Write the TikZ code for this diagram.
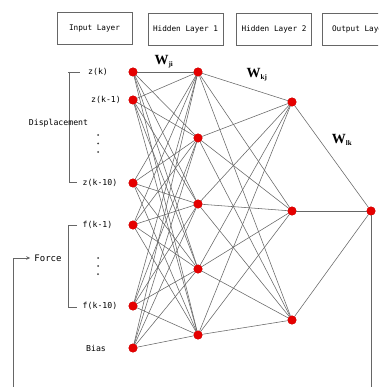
\documentclass[tikz,border=0pt]{standalone}
\usepackage{fontspec}
\setmainfont{Liberation Serif}
\newfontfamily\monof{DejaVu Sans Mono}
\usetikzlibrary{arrows.meta}
\tikzset{
  neuron/.style={circle,fill=red!90!black,draw=red!70!black,line width=0.3pt,minimum size=8.5pt,inner sep=0pt},
  hdr/.style={draw=black!60,line width=0.8pt,fill=white,minimum width=75pt,minimum height=32pt,font=\monof\fontsize{7.7}{9}\selectfont},
  lbl/.style={font=\monof\fontsize{8.2}{10}\selectfont,inner sep=0pt},
  conn/.style={draw=black!60,line width=0.55pt},
  brk/.style={draw=black!60,line width=0.8pt},
  wlbl/.style={font=\bfseries\fontsize{14}{16}\selectfont,inner sep=0pt},
  dotc/.style={circle,fill=black!75,inner sep=0pt,minimum size=2pt}
}
\begin{document}
\begin{tikzpicture}[x=1pt,y=-1pt]
\clip (0,0) rectangle (378,387);
\fill[white] (0,0) rectangle (378,387);
% header boxes
\node[hdr] (bin) at (94.5,28.5) {Input Layer};
\node[hdr] (bh1) at (185.5,29) {Hidden Layer 1};
\node[hdr] (bh2) at (274,29) {Hidden Layer 2};
\node[hdr,anchor=west] (bout) at (322,29) {Output Layer};
% input neurons
\node[neuron] (i1) at (133,72) {};
\node[neuron] (i2) at (133,100) {};
\node[neuron] (i3) at (133,183) {};
\node[neuron] (i4) at (133,225) {};
\node[neuron] (i5) at (133,306) {};
\node[neuron] (i6) at (133,348) {};
% hidden 1
\node[neuron] (h1) at (198,72) {};
\node[neuron] (h2) at (198,138) {};
\node[neuron] (h3) at (198,204) {};
\node[neuron] (h4) at (198,269) {};
\node[neuron] (h5) at (198,335) {};
% hidden 2
\node[neuron] (g1) at (292,102) {};
\node[neuron] (g2) at (292,211) {};
\node[neuron] (g3) at (292,320) {};
% output
\node[neuron] (o) at (371,211) {};
% connections
\foreach \a in {i1,i2,i3,i4,i5,i6}
  \foreach \b in {h1,h2,h3,h4,h5}
    \draw[conn] (\a) -- (\b);
\foreach \a in {h1,h2,h3,h4,h5}
  \foreach \b in {g1,g2,g3}
    \draw[conn] (\a) -- (\b);
\foreach \a in {g1,g2,g3}
  \draw[conn] (\a) -- (o);
% redraw neurons on top
\foreach \n/\x/\y in {i1/133/72,i2/133/100,i3/133/183,i4/133/225,i5/133/306,i6/133/348,h1/198/72,h2/198/138,h3/198/204,h4/198/269,h5/198/335,g1/292/102,g2/292/211,g3/292/320,o/371/211}
  \fill[red!90!black] (\x,\y) circle (4.3);
% input labels
\node[lbl] (lz0) at (98,72) {z(k)};
\node[lbl] (lz1) at (106,100) {z(k-1)};
\node[lbl] (lz10) at (100,183) {z(k-10)};
\node[lbl] (lf1) at (97.5,225) {f(k-1)};
\node[lbl] (lf10) at (100,306) {f(k-10)};
\node[lbl] (lbias) at (96,348) {Bias};
\node[dotc] (d1) at (98,135) {};
\node[dotc] (d2) at (98,143.5) {};
\node[dotc] (d3) at (98,152) {};
\node[dotc] (d4) at (98,258) {};
\node[dotc] (d5) at (98,266) {};
\node[dotc] (d6) at (98,274) {};
% displacement bracket
\coordinate (dt0) at (68,72);
\coordinate (dt1) at (80,72);
\coordinate (dv) at (69,72);
\coordinate (db0) at (69,182.5);
\coordinate (db1) at (77,182.5);
\draw[brk] (dt0) -- (dt1);
\draw[brk] (dv) -- (db0) -- (db1);
\node[lbl] (disp) at (58.5,123) {Displacement};
% force bracket
\coordinate (ft0) at (77,225);
\coordinate (ft1) at (68,225);
\coordinate (fb0) at (68,307);
\coordinate (fb1) at (77,307);
\draw[brk] (ft0) -- (ft1) -- (fb0) -- (fb1);
\node[lbl,font=\monof\fontsize{9}{10}\selectfont] (force) at (48,258) {Force};
% feedback loop
\coordinate (c1) at (371,392);
\coordinate (c2) at (13.5,392);
\coordinate (c3) at (13.5,258);
\draw[brk,-{Stealth[length=4pt,width=3.5pt]}] (o) -- (c1) -- (c2) -- (c3) -- ([xshift=-4pt]force.west);
% weight labels
\node[wlbl] (wji) at (164,62) {W\textsubscript{\fontsize{7}{8}\selectfont ji}};
\node[wlbl] (wkj) at (257,75) {W\textsubscript{\fontsize{7}{8}\selectfont kj}};
\node[wlbl] (wlk) at (342,140) {W\textsubscript{\fontsize{7}{8}\selectfont lk}};
\end{tikzpicture}
\end{document}
